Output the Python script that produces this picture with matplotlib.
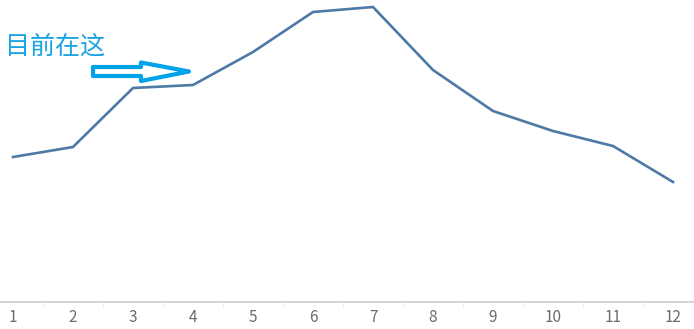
import matplotlib
matplotlib.use('Agg')
import matplotlib.pyplot as plt
from matplotlib.patches import Polygon

plt.rcParams['font.family'] = ['Noto Sans CJK SC', 'DejaVu Sans']

# data
months = [1, 2, 3, 4, 5, 6, 7, 8, 9, 10, 11, 12]
values = [145, 155, 214, 217, 250, 290, 295, 232, 191, 171, 156, 120]
tick_labels = [str(m) for m in months]
note_text = "目前在这"

W, H = 694, 329
fig = plt.figure(figsize=(W / 100, H / 100), dpi=100)
ax = fig.add_axes([0, 1 - 302 / H, 1, 302 / H])

ax.plot(months, values, color='#4e79a7', linewidth=1.9, solid_joinstyle='miter')

ax.set_xlim(1 - 13 / 60, 1 + 681 / 60)
ax.set_ylim(0, 302)
ax.set_yticks([])
ax.set_xticks(months)
ax.set_xticklabels(tick_labels)
ax.set_xticks([m + 0.5 for m in months[:-1]], minor=True)
ax.tick_params(axis='x', which='major', length=0, pad=5, labelsize=11, labelcolor='#6b6b6b')
ax.tick_params(axis='x', which='minor', length=4, color='#eeeeee', width=0.8)
for side in ['top', 'right', 'left']:
    ax.spines[side].set_visible(False)
ax.spines['bottom'].set_color('#cccccc')
ax.spines['bottom'].set_linewidth(1.2)

# annotation text and hollow arrow (figure pixel positions)
fig.text(5 / W, 1 - 47 / H, note_text, color='#1aa3e3', fontsize=18,
         va='center', ha='left')

def px(x, y):
    return (x / W, 1 - y / H)

arrow_pts = [px(93, 67), px(141, 67), px(141, 62.5), px(189, 71.5),
             px(141, 81), px(141, 76), px(93, 76)]
fig.patches.append(Polygon(arrow_pts, closed=True, fill=False,
                           edgecolor='#00a2e8', linewidth=3,
                           joinstyle='round', transform=fig.transFigure))

fig.savefig('out.png', dpi=100)
